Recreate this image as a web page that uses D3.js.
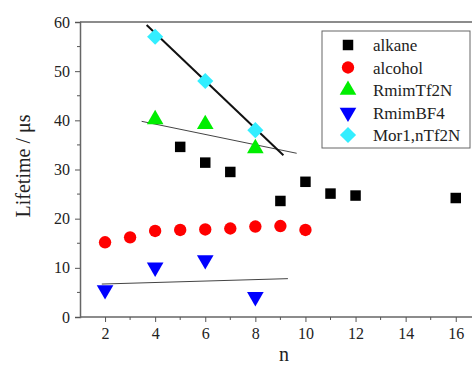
<!DOCTYPE html>
<html>
<head>
<meta charset="utf-8">
<script src="https://cdn.jsdelivr.net/npm/d3@7"></script>
<style>
  body { margin: 0; background: #fff; }
  svg text { font-family: "Liberation Serif", "Times New Roman", serif; fill: #222; }
</style>
</head>
<body>
<div id="chart"></div>
<script>
// data
var alkaneN = [5, 6, 7, 9, 10, 11, 12, 16];
var alkaneY = [34.6, 31.4, 29.5, 23.6, 27.5, 25.1, 24.7, 24.2];

var alcoholN = [2, 3, 4, 5, 6, 7, 8, 9, 10];
var alcoholY = [15.2, 16.2, 17.5, 17.7, 17.8, 18.0, 18.4, 18.5, 17.7];

var tf2nN = [4, 6, 8];
var tf2nY = [40.2, 39.2, 34.3];

var bf4N = [2, 4, 6, 8];
var bf4Y = [5.5, 10.1, 11.6, 4.1];

var morN = [4, 6, 8];
var morY = [57.0, 48.0, 38.0];

// fit lines, end points
var morFit = [[3.66, 59.4], [9.12, 32.9]];
var tf2nFit = [[3.46, 39.8], [9.65, 33.3]];
var bf4Fit = [[1.87, 6.7], [9.3, 7.8]];

var xTicks = [2, 4, 6, 8, 10, 12, 14, 16];
var yTicks = [0, 10, 20, 30, 40, 50, 60];

var W = 472, H = 367;
var serif = "'Liberation Serif', 'Times New Roman', serif";

var svg = d3.select("#chart").append("svg")
  .attr("width", W)
  .attr("height", H);

var x = d3.scaleLinear().domain([1, 17]).range([80, 480.8]);
var y = d3.scaleLinear().domain([0, 60]).range([317, 22]);

// frame top line
svg.append("line")
  .attr("x1", x(1)).attr("x2", W)
  .attr("y1", y(60)).attr("y2", y(60))
  .attr("stroke", "#666").attr("stroke-width", 1.5);

// axes
var xAxis = d3.axisBottom(x).tickValues(xTicks).tickSize(5).tickPadding(6).tickFormat(d3.format("d"));
var yAxis = d3.axisLeft(y).tickValues(yTicks).tickSize(5).tickPadding(5).tickFormat(d3.format("d"));

var gx = svg.append("g").attr("transform", "translate(0," + y(0) + ")").call(xAxis);
var gy = svg.append("g").attr("transform", "translate(" + x(1) + ",0)").call(yAxis);

// minor ticks
var xMinor = d3.range(3, 17, 2);
var yMinor = d3.range(5, 60, 10);
gx.selectAll(".minor").data(xMinor).enter().append("line")
  .attr("class", "minor")
  .attr("x1", function(d) { return x(d); }).attr("x2", function(d) { return x(d); })
  .attr("y1", 0).attr("y2", 3);
gy.selectAll(".minor").data(yMinor).enter().append("line")
  .attr("class", "minor")
  .attr("y1", function(d) { return y(d); }).attr("y2", function(d) { return y(d); })
  .attr("x1", 0).attr("x2", -3);

[gx, gy].forEach(function(g) {
  g.attr("font-family", serif);
  g.select(".domain").attr("stroke", "#666").attr("stroke-width", 1.5);
  g.selectAll("line").attr("stroke", "#555").attr("stroke-width", 1);
  g.selectAll("text").attr("font-size", 16).attr("fill", "#222");
});
gx.select(".domain").attr("d", "M" + x(1) + ",0H" + W);

// axis titles
svg.append("text")
  .attr("transform", "translate(30,166) rotate(-90)")
  .attr("text-anchor", "middle")
  .attr("font-family", serif)
  .attr("font-size", 20)
  .text("Lifetime / \u03bcs");

svg.append("text")
  .attr("x", 284).attr("y", 361)
  .attr("text-anchor", "middle")
  .attr("font-family", serif)
  .attr("font-size", 20)
  .text("n");

// fit lines
var line = d3.line().x(function(d) { return x(d[0]); }).y(function(d) { return y(d[1]); });
svg.append("path").datum(tf2nFit).attr("d", line).attr("stroke", "#444").attr("stroke-width", 1).attr("fill", "none");
svg.append("path").datum(bf4Fit).attr("d", line).attr("stroke", "#444").attr("stroke-width", 1).attr("fill", "none");
svg.append("path").datum(morFit).attr("d", line).attr("stroke", "#111").attr("stroke-width", 2).attr("fill", "none");

// series
var series = [
  {name: "alkane", n: alkaneN, v: alkaneY, sym: d3.symbolSquare, size: 110, color: "#000000", rot: 0},
  {name: "alcohol", n: alcoholN, v: alcoholY, sym: d3.symbolCircle, size: 120, color: "#ff0000", rot: 0},
  {name: "RmimTf2N", n: tf2nN, v: tf2nY, sym: d3.symbolTriangle, size: 120, color: "#00ee00", rot: 0},
  {name: "RmimBF4", n: bf4N, v: bf4Y, sym: d3.symbolTriangle, size: 120, color: "#0000ff", rot: 180},
  {name: "Mor1,nTf2N", n: morN, v: morY, sym: d3.symbolSquare, size: 130, color: "#33eeff", rot: 45}
];

series.forEach(function(s) {
  var pts = s.n.map(function(n, i) { return [n, s.v[i]]; });
  svg.append("g").selectAll("path").data(pts).enter().append("path")
    .attr("d", d3.symbol().type(s.sym).size(s.size))
    .attr("transform", function(d) {
      return "translate(" + x(d[0]) + "," + y(d[1]) + ") rotate(" + s.rot + ")";
    })
    .attr("fill", s.color);
});

// legend
var legend = svg.append("g").attr("transform", "translate(322,31)");
legend.append("rect")
  .attr("width", 148).attr("height", 117)
  .attr("fill", "#fff").attr("stroke", "#666").attr("stroke-width", 1);
var item = legend.selectAll(".item").data(series).enter().append("g")
  .attr("class", "item")
  .attr("transform", function(d, i) { return "translate(0," + (14 + i * 22.5) + ")"; });
item.append("path")
  .attr("d", function(d) { return d3.symbol().type(d.sym).size(d.size)(); })
  .attr("transform", function(d) { return "translate(26,0) rotate(" + d.rot + ")"; })
  .attr("fill", function(d) { return d.color; });
item.append("text")
  .attr("x", 51).attr("y", 6)
  .attr("font-family", serif)
  .attr("font-size", 17)
  .text(function(d) { return d.name; });
</script>
</body>
</html>
